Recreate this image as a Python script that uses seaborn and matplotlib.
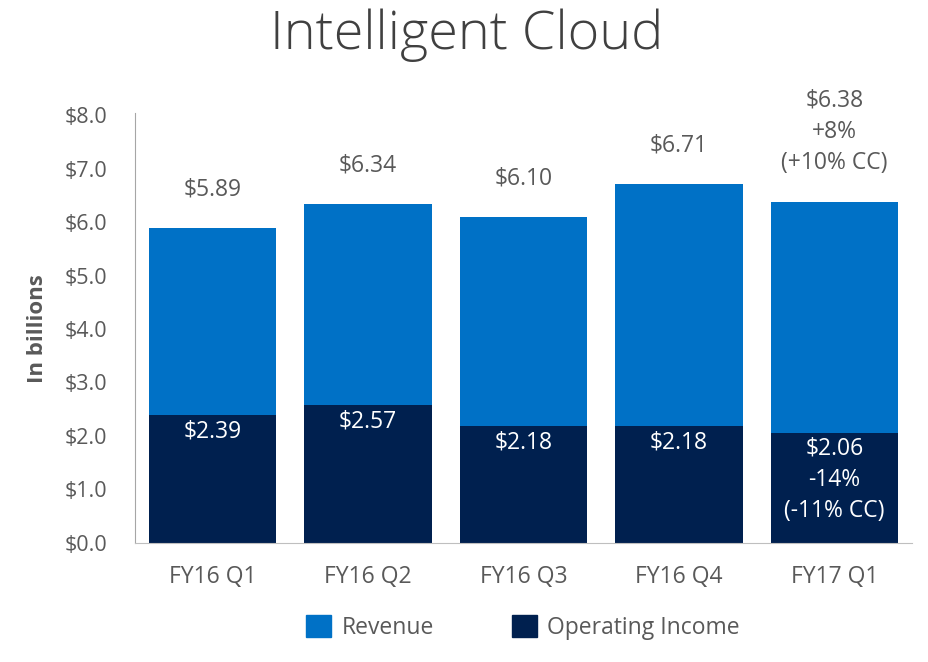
import pandas as pd
import matplotlib.pyplot as plt
import seaborn as sns
from matplotlib.patches import Patch

quarters = ['FY16 Q1', 'FY16 Q2', 'FY16 Q3', 'FY16 Q4', 'FY17 Q1']
revenue = [5.89, 6.34, 6.10, 6.71, 6.38]
op_income = [2.39, 2.57, 2.18, 2.18, 2.06]
rev_labels = ['$5.89', '$6.34', '$6.10', '$6.71', '$6.38\n+8%\n(+10% CC)']
inc_labels = ['$2.39', '$2.57', '$2.18', '$2.18', '$2.06\n-14%\n(-11% CC)']
yticks = [0, 1, 2, 3, 4, 5, 6, 7, 8]

df = pd.DataFrame({'quarter': quarters, 'revenue': revenue, 'income': op_income})

sns.set_style('white')
plt.rcParams['font.family'] = ['Open Sans', 'DejaVu Sans']

blue = '#0071c6'
navy = '#00204f'
grey = '#595959'

fig = plt.figure(figsize=(9.29, 6.62), dpi=100)
ax = fig.add_axes([0.145, 0.180, 0.837, 0.646])

sns.barplot(data=df, x='quarter', y='revenue', color=blue, saturation=1,
            width=0.82, linewidth=0, ax=ax)
sns.barplot(data=df, x='quarter', y='income', color=navy, saturation=1,
            width=0.82, linewidth=0, ax=ax)

for i, (r, lab) in enumerate(zip(revenue, rev_labels)):
    ax.text(i, r + 0.5, lab, ha='center', va='bottom', fontsize=16.5,
            color=grey, linespacing=1.4)
for i, (v, lab) in enumerate(zip(op_income, inc_labels)):
    ax.text(i, v - 0.08, lab, ha='center', va='top', fontsize=16.5,
            color='white', linespacing=1.4)

ax.set_xlim(-0.5, 4.5)
ax.set_ylim(0, 8)
ax.set_yticks(yticks)
ax.set_yticklabels([f'${t:.1f}' for t in yticks], fontsize=15.5, color=grey)
ax.tick_params(axis='x', labelsize=16.5, colors=grey, pad=16, length=0)
ax.tick_params(axis='y', pad=20, length=0)
ax.set_xlabel('')
ax.set_ylabel('In billions', fontsize=16, fontweight='bold', color=grey,
              labelpad=12)

for s in ['top', 'right']:
    ax.spines[s].set_visible(False)
ax.spines['left'].set_color('#a6a6a6')
ax.spines['bottom'].set_color('#bfbfbf')
ax.spines['left'].set_bounds(0, 8.05)

fig.text(0.502, 0.946, 'Intelligent Cloud', ha='center', va='center',
         fontsize=39, color='#404040', fontweight='light')

handles = [Patch(color=blue, label='Revenue'),
           Patch(color=navy, label='Operating Income')]
fig.legend(handles=handles, loc='center', bbox_to_anchor=(0.563, 0.052),
           ncol=2, frameon=False, fontsize=16.5, labelcolor=grey,
           handlelength=1.1, handleheight=1.1, columnspacing=3.4,
           handletextpad=0.45)

fig.savefig('out.png', dpi=100)
